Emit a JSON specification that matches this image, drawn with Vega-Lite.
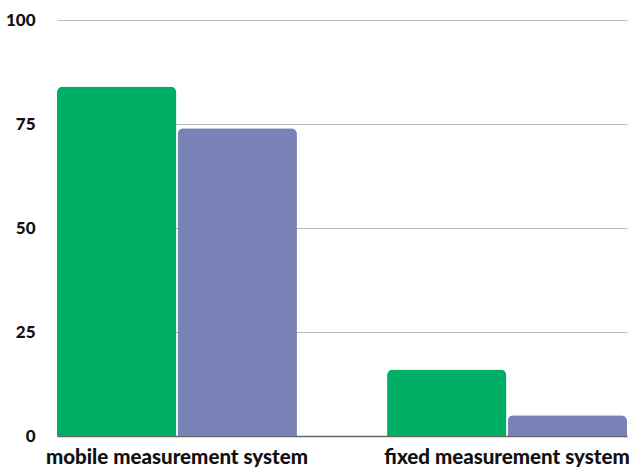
{
  "$schema": "https://vega.github.io/schema/vega-lite/v6.json",
  "width": 570,
  "height": 416,
  "autosize": {"type": "none"},
  "padding": {"left": 57, "top": 20, "right": 7, "bottom": 37},
  "background": "white",
  "data": {
    "values": [
      {"system": "mobile measurement system", "series": "A", "value": 84},
      {"system": "mobile measurement system", "series": "B", "value": 74},
      {"system": "fixed measurement system", "series": "A", "value": 16},
      {"system": "fixed measurement system", "series": "B", "value": 5}
    ]
  },
  "mark": {"type": "bar", "cornerRadiusTopLeft": 6, "cornerRadiusTopRight": 6},
  "encoding": {
    "x": {
      "field": "system",
      "type": "nominal",
      "sort": ["mobile measurement system", "fixed measurement system"],
      "scale": {"paddingInner": 0.273, "paddingOuter": 0},
      "axis": {
        "title": null,
        "labelAngle": 0,
        "labelFont": "Lato",
        "labelFontWeight": 900,
        "labelFontSize": 20.5,
        "labelColor": "#111111",
        "labelPadding": 11,
        "labelLimit": 0,
        "labelOverlap": false,
        "ticks": false,
        "domainColor": "#666666",
        "domainWidth": 1.5
      }
    },
    "xOffset": {
      "field": "series",
      "type": "nominal",
      "scale": {"paddingInner": 0.01, "paddingOuter": 0}
    },
    "y": {
      "field": "value",
      "type": "quantitative",
      "scale": {"domain": [0, 100]},
      "axis": {
        "title": null,
        "values": [0, 25, 50, 75, 100],
        "labelFont": "Lato",
        "labelFontWeight": 900,
        "labelFontSize": 17,
        "labelColor": "#111111",
        "labelPadding": 22,
        "ticks": false,
        "domain": false,
        "gridColor": "#bbbbbb",
        "gridWidth": 1.2
      }
    },
    "color": {
      "field": "series",
      "type": "nominal",
      "scale": {"domain": ["A", "B"], "range": ["#00af66", "#7982b6"]},
      "legend": null
    }
  },
  "config": {"view": {"stroke": null}}
}
